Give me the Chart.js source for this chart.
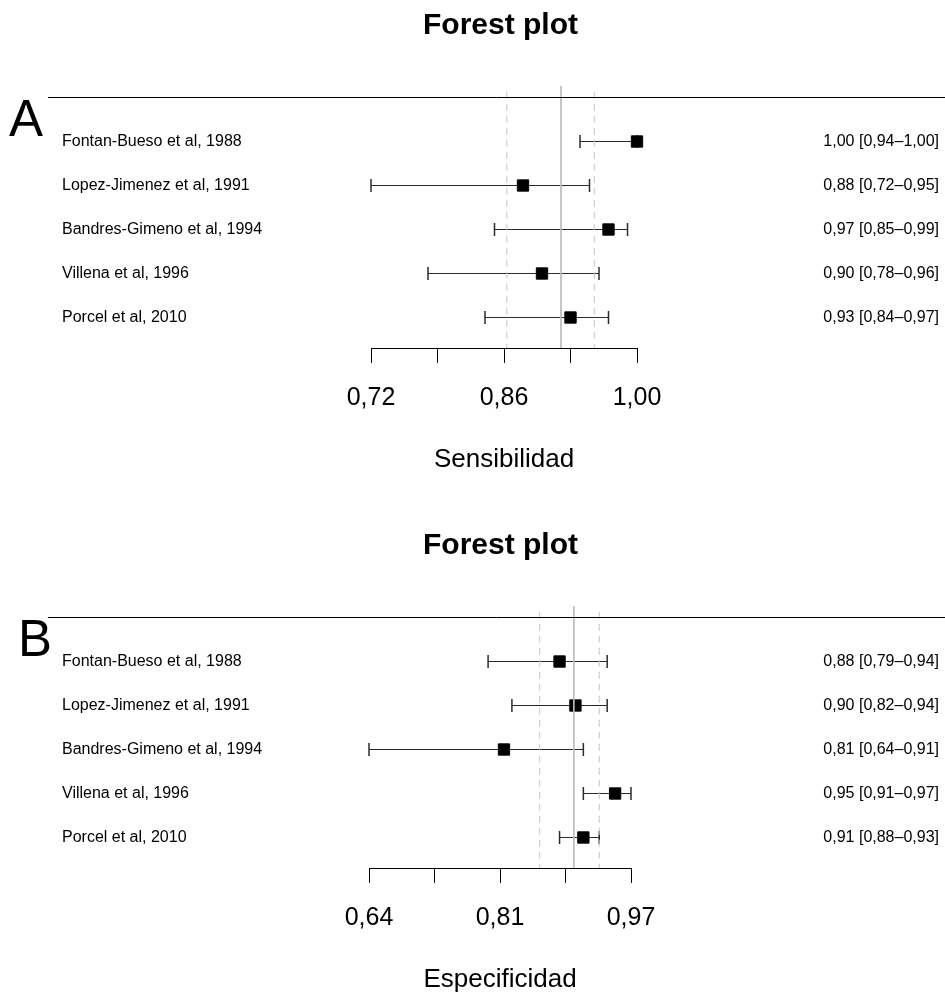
<!DOCTYPE html>
<html>
<head>
<meta charset="utf-8">
<script src="https://cdn.jsdelivr.net/npm/chart.js@4.4.1/dist/chart.umd.min.js"></script>
<style>
  html, body { margin: 0; padding: 0; background: #fff; }
  body { width: 945px; height: 993px; overflow: hidden; position: relative; }
  .panel { position: absolute; left: 0; width: 945px; height: 520px; }
</style>
</head>
<body>
<div class="panel" style="top:0"><canvas id="chartA" width="945" height="520"></canvas></div>
<div class="panel" style="top:520px"><canvas id="chartB" width="945" height="520"></canvas></div>
<script>
// studies (same order in both panels)
const studies = [
  'Fontan-Bueso et al, 1988',
  'Lopez-Jimenez et al, 1991',
  'Bandres-Gimeno et al, 1994',
  'Villena et al, 1996',
  'Porcel et al, 2010'
];

// sensitivity: estimate + 95% CI
const sensEst  = [1.00, 0.88, 0.97, 0.90, 0.93];
const sensLow  = [0.94, 0.72, 0.85, 0.78, 0.84];
const sensHigh = [1.00, 0.95, 0.99, 0.96, 0.97];
// pooled sensitivity [lower, estimate, upper]
const sensPooled = [0.863, 0.920, 0.955];
const sensTicks = [0.72, 0.79, 0.86, 0.93, 1.00];
const sensTickLabels = ['0,72', '', '0,86', '', '1,00'];

// specificity: estimate + 95% CI
const specEst  = [0.88, 0.90, 0.81, 0.95, 0.91];
const specLow  = [0.79, 0.82, 0.64, 0.91, 0.88];
const specHigh = [0.94, 0.94, 0.91, 0.97, 0.93];
// pooled specificity [lower, estimate, upper]
const specPooled = [0.855, 0.898, 0.930];
const specTicks = [0.64, 0.7225, 0.805, 0.8875, 0.97];
const specTickLabels = ['0,64', '', '0,81', '', '0,97'];

const FONT = '"Liberation Sans", Arial, Helvetica, sans-serif';
Chart.defaults.font.family = FONT;
Chart.defaults.color = '#000';

// row 0 is the header rule, rows 1..5 are the studies (44px per row,
// offset half a pixel so the 1px whiskers stay crisp)
const Y_MIN = -0.2614;
const Y_MAX = 5.6932;

const fmt = v => v.toFixed(2).replace('.', ',');

// header rule + panel letter
const panelDecor = {
  id: 'panelDecor',
  afterDraw(chart, args, o) {
    const ctx = chart.ctx;
    const y = Math.floor(chart.scales.y.getPixelForValue(0)) + 0.5;
    ctx.save();
    ctx.strokeStyle = '#000';
    ctx.lineWidth = 1;
    ctx.beginPath();
    ctx.moveTo(48, y);
    ctx.lineTo(chart.width, y);
    ctx.stroke();
    ctx.fillStyle = '#000';
    ctx.font = '51px ' + FONT;
    ctx.textBaseline = 'alphabetic';
    ctx.textAlign = 'left';
    ctx.fillText(o.letter, o.letterX, o.letterY);
    ctx.restore();
  }
};

function forestPanel(id, p) {
  const rows = studies.map((_, i) => i + 1);
  const valueLabels = p.est.map((v, i) => `${fmt(v)} [${fmt(p.low[i])}–${fmt(p.high[i])}]`);

  const datasets = [];
  // pooled estimate (solid) and limits (dashed), drawn over the marks
  datasets.push({
    data: [{ x: p.pooled[1], y: Y_MIN }, { x: p.pooled[1], y: Y_MAX }],
    showLine: true, borderColor: '#bdbdbd', borderWidth: 1, pointRadius: 0
  });
  [p.pooled[0], p.pooled[2]].forEach(v => datasets.push({
    data: [{ x: v, y: Y_MIN + 0.13 }, { x: v, y: Y_MAX }],
    showLine: true, borderColor: '#c4c4c4', borderWidth: 1, borderDash: [7, 5], pointRadius: 0
  }));
  // study estimates
  datasets.push({
    data: p.est.map((v, i) => ({ x: v, y: rows[i] })),
    pointStyle: 'rect', pointRadius: 8, backgroundColor: '#000',
    borderColor: '#000', borderWidth: 1, clip: false
  });
  // confidence intervals with end caps
  p.low.forEach((lo, i) => datasets.push({
    data: [{ x: lo, y: rows[i] }, { x: p.high[i], y: rows[i] }],
    showLine: true, borderColor: '#2b2b2b', borderWidth: 1,
    pointStyle: 'line', pointRotation: 90, pointRadius: 6.5,
    pointBorderColor: '#2b2b2b', pointBorderWidth: 1.5, clip: false
  }));

  const rowAxis = (pos, width, labels) => ({
    type: 'linear', position: pos, reverse: true, min: Y_MIN, max: Y_MAX,
    afterBuildTicks: s => { s.ticks = rows.map(v => ({ value: v })); },
    afterFit: s => { s.width = width; },
    ticks: { callback: v => labels[v - 1], crossAlign: 'far', autoSkip: false, font: { size: 16 }, color: '#000' },
    grid: { display: false },
    border: { display: false }
  });

  return new Chart(document.getElementById(id), {
    type: 'scatter',
    data: { datasets },
    plugins: [panelDecor],
    options: {
      responsive: false,
      animation: false,
      layout: { padding: { left: 62, right: 6, top: 0, bottom: 0 } },
      plugins: {
        legend: { display: false },
        tooltip: { enabled: false },
        title: {
          display: true, text: 'Forest plot', color: '#000',
          font: { size: 30, weight: 'bold' },
          padding: { top: 8, bottom: 42 }
        },
        panelDecor: { letter: p.letter, letterX: p.letterX, letterY: 136 }
      },
      scales: {
        x: {
          type: 'linear', min: p.ticks[0], max: p.ticks[p.ticks.length - 1],
          afterBuildTicks: s => { s.ticks = p.ticks.map(v => ({ value: v })); },
          afterFit: s => { s.height = 172; },
          ticks: { callback: (v, i) => p.tickLabels[i], font: { size: 25 }, color: '#000', padding: 20, autoSkip: false, maxRotation: 0 },
          grid: { drawOnChartArea: false, tickLength: 15, color: '#000', lineWidth: 1 },
          border: { color: '#000', width: 1 },
          title: { display: true, text: p.axisTitle, font: { size: 26 }, color: '#000', padding: { top: 0, bottom: 45 } }
        },
        y: rowAxis('left', p.leftWidth, studies),
        y2: rowAxis('right', p.rightWidth, valueLabels)
      }
    }
  });
}

forestPanel('chartA', {
  letter: 'A', letterX: 9, axisTitle: 'Sensibilidad',
  leftWidth: 309, rightWidth: 302,
  est: sensEst, low: sensLow, high: sensHigh, pooled: sensPooled,
  ticks: sensTicks, tickLabels: sensTickLabels
});

forestPanel('chartB', {
  letter: 'B', letterX: 18, axisTitle: 'Especificidad',
  leftWidth: 307, rightWidth: 308,
  est: specEst, low: specLow, high: specHigh, pooled: specPooled,
  ticks: specTicks, tickLabels: specTickLabels
});
</script>
</body>
</html>
